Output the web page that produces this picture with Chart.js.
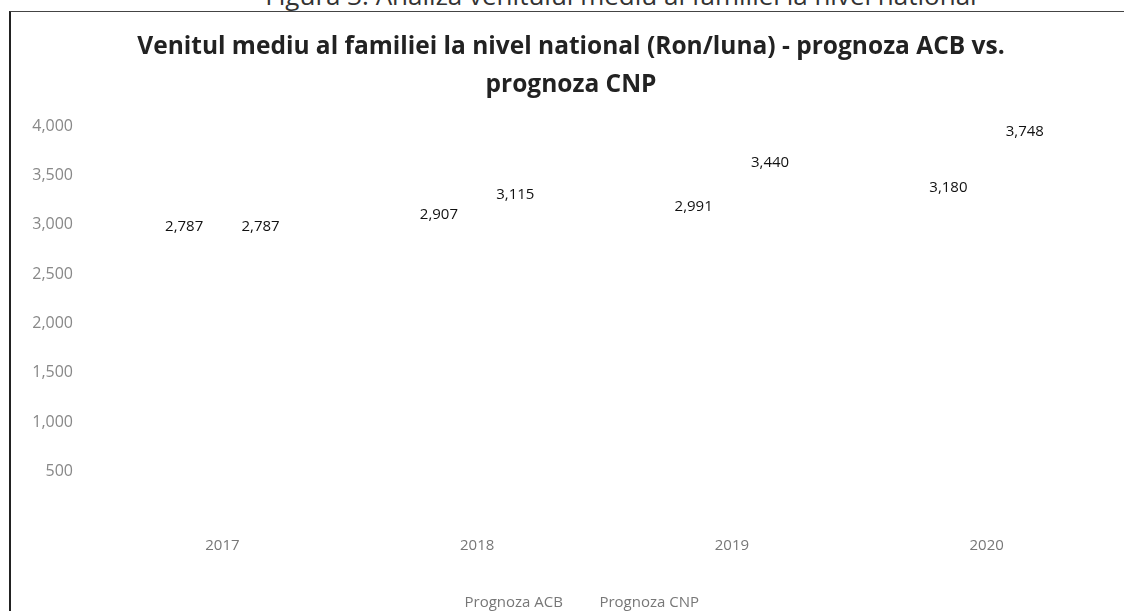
<!DOCTYPE html>
<html>
<head>
<meta charset="utf-8">
<script src="https://cdn.jsdelivr.net/npm/chart.js@4/dist/chart.umd.min.js"></script>
<style>
  body { margin: 0; background: #fff; width: 1124px; height: 611px; overflow: hidden; position: relative; }
  #caption { position: absolute; left: 0; top: -18px; width: 1124px; padding-left: 118px; box-sizing: border-box; text-align: center;
             font-family: 'Open Sans', sans-serif; font-size: 26px; line-height: 26px; color: #333; white-space: nowrap; }
  #frame { position: absolute; left: 9px; top: 11px; width: 1124px; height: 620px; border-left: 2px solid #222; border-top: 1px solid #444; }
  #box { position: absolute; left: 0; top: 11px; width: 1124px; height: 620px; }
</style>
</head>
<body>
<div id="caption">Figura 3: Analiza venitului mediu al familiei la nivel national</div>
<div id="frame"></div>
<div id="box"><canvas id="incomeChart"></canvas></div>
<script>
// chart data
const years = ['2017', '2018', '2019', '2020'];
const acbValues = [2787, 2907, 2991, 3180];
const cnpValues = [2787, 3115, 3440, 3748];
const yTicks = [500, 1000, 1500, 2000, 2500, 3000, 3500, 4000];

const fmt = v => v.toLocaleString('en-US');

// draws the number above each bar (no datalabels plugin here)
const valueLabels = {
  id: 'valueLabels',
  afterDatasetsDraw(chart) {
    const ctx = chart.ctx;
    ctx.save();
    ctx.font = '15px "Open Sans", sans-serif';
    ctx.fillStyle = '#111';
    ctx.textAlign = 'center';
    ctx.textBaseline = 'middle';
    chart.data.datasets.forEach((ds, i) => {
      chart.getDatasetMeta(i).data.forEach((bar, j) => {
        ctx.fillText(fmt(ds.data[j]), bar.x, bar.y - 19);
      });
    });
    ctx.restore();
  }
};

const ctx = document.getElementById('incomeChart').getContext('2d');
const incomeChart = new Chart(ctx, {
  type: 'bar',
  data: {
    labels: years,
    datasets: [
      {
        label: 'Prognoza ACB',
        data: acbValues,
        backgroundColor: '#ffffff',
        borderWidth: 0
      },
      {
        label: 'Prognoza CNP',
        data: cnpValues,
        backgroundColor: '#ffffff',
        borderWidth: 0
      }
    ]
  },
  options: {
    responsive: true,
    maintainAspectRatio: false,
    animation: false,
    layout: { padding: { left: 28, right: 10, top: 0, bottom: 11 } },
    datasets: { bar: { categoryPercentage: 0.6, barPercentage: 1 } },
    plugins: {
      title: {
        display: true,
        text: ['Venitul mediu al familiei la nivel national (Ron/luna) - prognoza ACB vs.', 'prognoza CNP'],
        color: '#222',
        font: { family: 'Open Sans', size: 24.5, weight: 'bold', lineHeight: 1.55 },
        padding: { top: 17, bottom: 22 }
      },
      legend: {
        position: 'bottom',
        labels: { color: '#777', font: { family: 'Open Sans', size: 15 }, boxWidth: 14, boxHeight: 14, padding: 15 }
      },
      tooltip: { enabled: false }
    },
    scales: {
      x: {
        grid: { display: false, drawTicks: false },
        border: { display: false },
        ticks: { color: '#777', font: { family: 'Open Sans', size: 15 }, padding: 16 },
        afterFit: axis => { axis.height = 59; }
      },
      y: {
        min: 0,
        max: 4000,
        grid: { display: false, drawTicks: false },
        border: { display: false },
        afterBuildTicks: axis => { axis.ticks = [0].concat(yTicks).map(v => ({ value: v })); },
        afterFit: axis => { axis.width = 67; },
        ticks: {
          color: '#888',
          font: { family: 'Open Sans', size: 16 },
          padding: 22,
          callback: v => (v === 0 ? '' : fmt(v))
        }
      }
    }
  },
  plugins: [valueLabels]
});
</script>
</body>
</html>
